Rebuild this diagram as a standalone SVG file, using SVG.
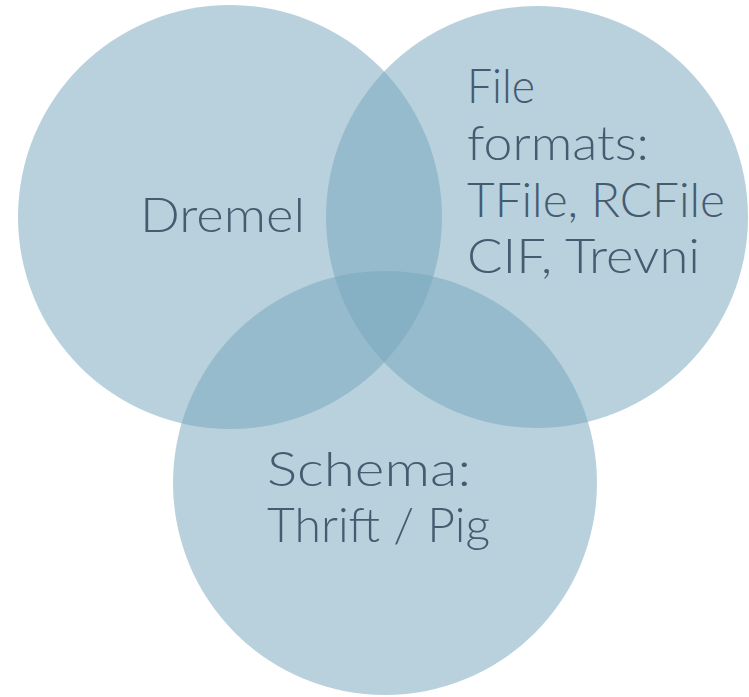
<svg xmlns="http://www.w3.org/2000/svg" width="749" height="697" viewBox="0 0 749 697">
<style>
.c{fill:#78a8bf;fill-opacity:0.53}
.t{font-family:"Lato","DejaVu Sans","Liberation Sans",sans-serif;font-weight:300;font-size:48px;fill:#465a70}
</style>
<rect width="749" height="697" fill="#ffffff"/>
<g id="connectors"></g>
<g id="dremel">
<circle class="c" cx="230" cy="217" r="212"/>
<text class="t" x="140" y="232" textLength="165" lengthAdjust="spacingAndGlyphs">Dremel</text>
</g>
<g id="fileformats">
<circle class="c" cx="537" cy="217" r="211"/>
<text class="t" x="467" y="103" textLength="68" lengthAdjust="spacingAndGlyphs">File</text>
<text class="t" x="467" y="160" textLength="182" lengthAdjust="spacingAndGlyphs">formats:</text>
<text class="t" x="467" y="217" textLength="258" lengthAdjust="spacingAndGlyphs">TFile, RCFile</text>
<text class="t" x="467" y="273" textLength="233" lengthAdjust="spacingAndGlyphs">CIF, Trevni</text>
</g>
<g id="schema">
<circle class="c" cx="385" cy="483" r="212"/>
<text class="t" x="267" y="486" textLength="204" lengthAdjust="spacingAndGlyphs">Schema:</text>
<text class="t" x="267" y="542" textLength="223" lengthAdjust="spacingAndGlyphs">Thrift / Pig</text>
</g>
</svg>
